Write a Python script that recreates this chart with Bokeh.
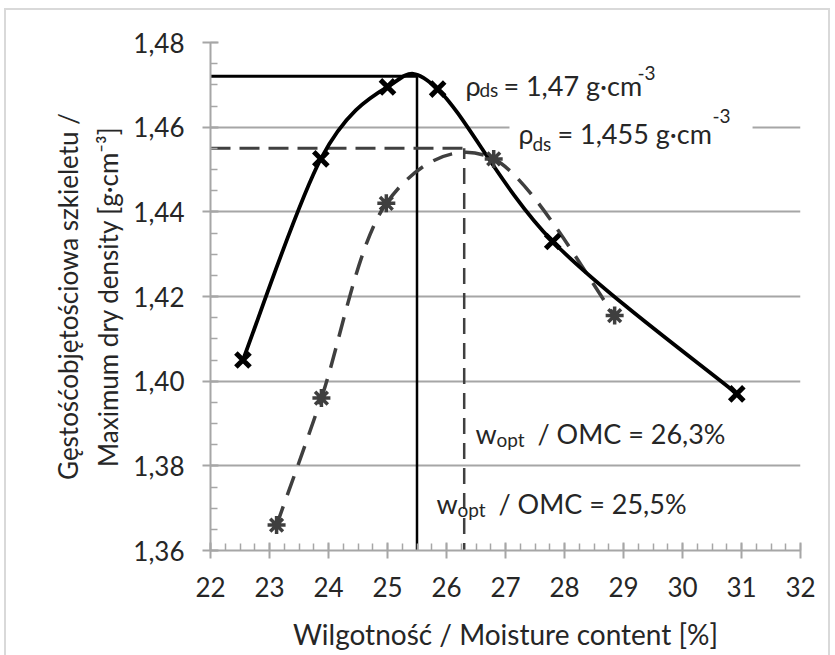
from bokeh.plotting import figure
from bokeh.models import (Range1d, FixedTicker, LinearAxis, CustomJSTickFormatter,
                          ColumnDataSource, InlineStyleSheet)
from bokeh.core.properties import value
from bokeh.embed import file_html
from bokeh.resources import INLINE

# ---- data ----
w_solid = [22.55, 23.87, 25.0, 25.85, 27.8, 30.92]
rho_solid = [1.405, 1.4525, 1.4695, 1.469, 1.433, 1.397]
w_dash = [23.12, 23.88, 24.98, 26.8, 28.85]
rho_dash = [1.366, 1.396, 1.442, 1.4525, 1.4155]
omc = [25.5, 26.3]            # optimum moisture contents (solid, dashed)
rho_max = [1.472, 1.455]      # max dry densities (solid, dashed)
x_ticks = [22, 23, 24, 25, 26, 27, 28, 29, 30, 31, 32]
y_ticks = [1.36, 1.38, 1.40, 1.42, 1.44, 1.46, 1.48]

FONT = "Lato"
TXT = "#262626"
FS_TICK = "26px"
FS_ANN = "27px"
SUB = "19px"


def bezier_segments(xs, ys):
    n = len(xs)
    d = dict(x0=[], y0=[], x1=[], y1=[], cx0=[], cy0=[], cx1=[], cy1=[])
    for i in range(n - 1):
        a = i - 1 if i > 0 else i
        b = i + 2 if i + 2 < n else i + 1
        d["x0"].append(xs[i]); d["y0"].append(ys[i])
        d["x1"].append(xs[i + 1]); d["y1"].append(ys[i + 1])
        d["cx0"].append(xs[i] + (xs[i + 1] - xs[a]) / 6)
        d["cy0"].append(ys[i] + (ys[i + 1] - ys[a]) / 6)
        d["cx1"].append(xs[i + 1] - (xs[b] - xs[i]) / 6)
        d["cy1"].append(ys[i + 1] - (ys[b] - ys[i]) / 6)
    return ColumnDataSource(d)


p = figure(width=835, height=655, output_backend="svg", toolbar_location=None,
           x_range=Range1d(x_ticks[0], x_ticks[-1]), y_range=Range1d(y_ticks[0], y_ticks[-1]),
           min_border_left=210, min_border_right=35, min_border_top=42, min_border_bottom=105)
p.outline_line_color = None
p.background_fill_color = "white"
p.border_fill_color = "white"
p.stylesheets = [InlineStyleSheet(css=(
    ":host { position: relative; }"
    ":host::after { content: ''; position: absolute; left: 4px; top: 8px; width: 826px;"
    " height: 700px; border: 2px solid #d9d9d9; pointer-events: none; box-sizing: border-box; }"
))]

# axes
xminor = [x_ticks[0] + 0.25 * k for k in range(int((x_ticks[-1] - x_ticks[0]) / 0.25) + 1)]
yminor = [round(y_ticks[0] + 0.005 * k, 3) for k in range(25)]
p.xaxis.ticker = FixedTicker(ticks=x_ticks, minor_ticks=xminor)
p.yaxis.ticker = FixedTicker(ticks=y_ticks, minor_ticks=yminor)
p.yaxis.formatter = CustomJSTickFormatter(code="return tick.toFixed(2).replace('.', ',');")
p.xaxis.formatter = CustomJSTickFormatter(code="return tick.toFixed(0);")

for ax in (p.xaxis, p.yaxis):
    ax.axis_line_color = "#a6a6a6"
    ax.axis_line_width = 2
    ax.major_tick_line_color = "#a6a6a6"
    ax.major_tick_line_width = 2
    ax.minor_tick_line_color = "#a6a6a6"
    ax.minor_tick_line_width = 1.5
    ax.major_tick_in = 8
    ax.major_tick_out = 8
    ax.minor_tick_in = 7
    ax.minor_tick_out = 0
    ax.major_label_text_font = FONT
    ax.major_label_text_font_size = FS_TICK
    ax.major_label_text_color = TXT
    ax.axis_label_text_font = FONT
    ax.axis_label_text_color = TXT
    ax.axis_label_text_font_style = "normal"

p.xaxis.major_label_standoff = 18
p.yaxis.major_label_standoff = 18
p.xaxis.axis_label = "Wilgotność / Moisture content [%]"
p.xaxis.axis_label_text_font_size = "28px"
p.xaxis.axis_label_standoff = 17
p.yaxis.axis_label = "Maximum dry density [g·cm⁻³]"
p.yaxis.axis_label_text_font_size = "26px"
p.yaxis.axis_label_standoff = 6

extra = LinearAxis(ticker=FixedTicker(ticks=[]), axis_label="Gęstośćobjętościowa szkieletu /",
                   axis_line_color=None, major_tick_line_color=None, minor_tick_line_color=None,
                   major_label_text_font_size="0px", axis_label_standoff=6,
                   axis_label_text_font=FONT, axis_label_text_font_size="26px",
                   axis_label_text_color=TXT, axis_label_text_font_style="normal")
p.add_layout(extra, "left")

p.xgrid.grid_line_color = None
p.ygrid.grid_line_color = "#a6a6a6"
p.ygrid.grid_line_width = 2

# reference lines
p.line([x_ticks[0], omc[0]], [rho_max[0], rho_max[0]], line_color="black", line_width=3)
p.line([omc[0], omc[0]], [y_ticks[0], rho_max[0]], line_color="black", line_width=2.5)
p.line([x_ticks[0], omc[1]], [rho_max[1], rho_max[1]], line_color="#404040", line_width=3,
       line_dash="20 9")
p.line([omc[1], omc[1]], [y_ticks[0] - 0.002, rho_max[1]], line_color="#404040", line_width=2.5,
       line_dash="16 9")

# curves
p.bezier(x0="x0", y0="y0", x1="x1", y1="y1", cx0="cx0", cy0="cy0", cx1="cx1", cy1="cy1",
         source=bezier_segments(w_dash, rho_dash), line_color="#3f3f3f", line_width=3.5,
         line_dash="20 12")
p.bezier(x0="x0", y0="y0", x1="x1", y1="y1", cx0="cx0", cy0="cy0", cx1="cx1", cy1="cy1",
         source=bezier_segments(w_solid, rho_solid), line_color="black", line_width=3.8)
p.scatter(w_dash, rho_dash, marker="asterisk", size=18, line_color="#3f3f3f", line_width=3.5)
p.scatter(w_solid, rho_solid, marker="x", size=20, line_color="black", line_width=5)

DY = -10  # baseline correction


def rich(x, y, pieces):
    for txt, size, dx, dy, pad in pieces:
        kw = {}
        if pad is not None:
            kw = dict(background_fill_color="white", padding=pad)
        p.text(x=[x], y=[y], text=[txt], x_offset=dx, y_offset=dy + DY,
               text_font=value(FONT), text_font_size=size, text_color=TXT,
               text_baseline="alphabetic", text_align="left", **kw)


rich(26.32, 1.4675, [("ρ", FS_ANN, 0, 0, None), ("ds", SUB, 14, 4, None),
                     ("= 1,47 g·cm", FS_ANN, 38, 0, None), ("-3", SUB, 172, -12, None)])
# white-backed label interrupting the 1.46 gridline (padding: left, right, top, bottom)
rich(27.22, 1.4561, [("ρ", FS_ANN, -9, 0, (9, 0, 2, 2)),
                     ("ds", SUB, 14, 4, (0, 8, 12, 0)),
                     ("= 1,455  g·cm", FS_ANN, 39, 0, (0, 3, 2, 2)),
                     ("-3", SUB, 194, -12, (0, 22, 0, 12))])
rich(26.49, 1.3853, [("w", FS_ANN, 0, 0, None), ("opt", SUB, 21, 6, None),
                     ("/ OMC = 26,3%", FS_ANN, 62, 0, None)])
rich(25.83, 1.3687, [("w", FS_ANN, 0, 0, None), ("opt", SUB, 21, 6, None),
                     ("/ OMC = 25,5%", FS_ANN, 62, 0, None)])

open("out.html", "w").write(file_html(p, INLINE))
